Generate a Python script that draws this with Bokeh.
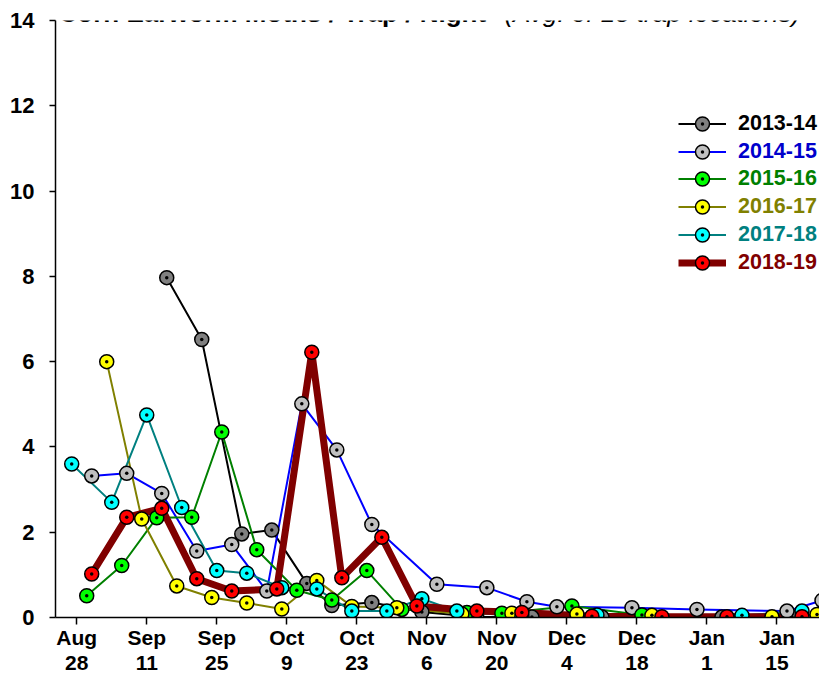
from bokeh.plotting import figure
from bokeh.models import Legend, LegendItem, Label, FixedTicker, Range1d
from bokeh.embed import file_html
from bokeh.resources import INLINE

# Day offsets are days after Aug 28 (x axis); values are moths / trap / night
days_2013 = [18, 25, 33, 39, 46, 51, 59, 69, 80, 91, 105, 129, 143]
vals_2013 = [7.97, 6.52, 1.96, 2.05, 0.80, 0.28, 0.35, 0.13, 0.01, 0.01, 0.01, 0.01, 0.01]

days_2014 = [3, 10, 17, 24, 31, 38, 45, 52, 59, 72, 82, 90, 96, 111, 124, 142, 149]
vals_2014 = [3.32, 3.38, 2.91, 1.56, 1.71, 0.62, 5.01, 3.93, 2.18, 0.78, 0.70, 0.37, 0.25, 0.23, 0.19, 0.15, 0.40]

days_2015 = [2, 9, 16, 23, 29, 36, 44, 51, 58, 65, 78, 85, 99, 113]
vals_2015 = [0.51, 1.22, 2.34, 2.35, 4.35, 1.59, 0.64, 0.41, 1.10, 0.19, 0.12, 0.10, 0.27, 0.06]

days_2016 = [6, 13, 20, 27, 34, 41, 48, 55, 64, 77, 87, 100, 115, 139, 148]
vals_2016 = [6.00, 2.31, 0.74, 0.47, 0.34, 0.20, 0.87, 0.26, 0.23, 0.08, 0.10, 0.08, 0.05, 0.02, 0.07]

days_2017 = [-1, 7, 14, 21, 28, 34, 41, 48, 55, 62, 69, 76, 89, 104, 133, 145]
vals_2017 = [3.60, 2.70, 4.75, 2.58, 1.10, 1.04, 0.70, 0.67, 0.15, 0.15, 0.44, 0.15, 0.02, 0.06, 0.05, 0.15]

days_2018 = [3, 10, 17, 24, 31, 40, 47, 53, 61, 68, 80, 89, 103, 117, 130, 145]
vals_2018 = [1.02, 2.35, 2.56, 0.91, 0.62, 0.67, 6.22, 0.93, 1.88, 0.27, 0.15, 0.12, 0.03, 0.02, 0.02, 0.02]

season_names = ["2013-14", "2014-15", "2015-16", "2016-17", "2017-18", "2018-19"]
line_colors = ["#000000", "#0000FF", "#008000", "#808000", "#008080", "#800000"]
text_colors = ["#000000", "#0000CC", "#008000", "#808000", "#008080", "#800000"]
fill_colors = ["#808080", "#C0C0C0", "#00FF00", "#FFFF00", "#00FFFF", "#FF0000"]
line_widths = [2, 2, 2, 2, 2, 7]

x_tick_days = [0, 14, 28, 42, 56, 70, 84, 98, 112, 126, 140]
x_tick_labels = ["Aug\n28", "Sep\n11", "Sep\n25", "Oct\n9", "Oct\n23", "Nov\n6",
                 "Nov\n20", "Dec\n4", "Dec\n18", "Jan\n1", "Jan\n15"]
y_ticks = [0, 2, 4, 6, 8, 10, 12, 14]

series_days = [days_2013, days_2014, days_2015, days_2016, days_2017, days_2018]
series_vals = [vals_2013, vals_2014, vals_2015, vals_2016, vals_2017, vals_2018]

FONT = "Liberation Sans"
MARKER_SIZE = 14

p = figure(width=819, height=676, output_backend="svg", toolbar_location=None,
           x_range=Range1d(-4.24, 148.5), y_range=Range1d(0, 14),
           min_border_left=55, min_border_right=0, min_border_top=20, min_border_bottom=59)
p.outline_line_color = None
p.xgrid.visible = False
p.ygrid.visible = False

lines = []
for d, v, lc, lw in zip(series_days, series_vals, line_colors, line_widths):
    lines.append(p.line(d, v, line_color=lc, line_width=lw, line_join="round"))
markers = []
for d, v, fc in zip(series_days, series_vals, fill_colors):
    markers.append(p.scatter(d, v, marker="circle_dot", size=MARKER_SIZE, fill_color=fc,
                             line_color="black", line_width=1.5))

# axes
for ax in (p.xaxis[0], p.yaxis[0]):
    ax.axis_line_width = 1.5
    ax.major_tick_line_width = 1.5
    ax.minor_tick_line_color = None
    ax.major_tick_in = 0
    ax.major_label_text_font = FONT
    ax.major_label_text_font_style = "bold"
    ax.major_label_text_font_size = "21px"
    ax.major_label_text_color = "black"

p.xaxis.ticker = FixedTicker(ticks=x_tick_days)
p.xaxis.major_label_overrides = {t: lab for t, lab in zip(x_tick_days, x_tick_labels)}
p.xaxis.major_tick_out = 7
p.xaxis.major_label_standoff = 1
p.xaxis.major_label_text_line_height = 1.1

p.yaxis.ticker = FixedTicker(ticks=y_ticks)
p.yaxis.major_tick_out = 6
p.yaxis.major_label_standoff = 15
p.yaxis.major_label_text_font_size = "22px"

# legends (one per season so each label can have its own colour)
glyph_h = int(round(MARKER_SIZE / 0.4))
for i, name in enumerate(season_names):
    leg = Legend(items=[LegendItem(label=name, renderers=[lines[i], markers[i]])],
                 location=(623, int(round(617 - 123.2 - glyph_h / 2 - i * 27.8))),
                 border_line_color=None, background_fill_alpha=0,
                 padding=0, margin=0, glyph_width=48, glyph_height=glyph_h,
                 label_height=20, label_standoff=12,
                 label_text_font=FONT, label_text_font_style="bold",
                 label_text_font_size="21.5px", label_text_color=text_colors[i],
                 label_text_baseline="middle")
    p.add_layout(leg)

# title (top clipped like the reference)
p.add_layout(Label(x=-3.64, y=14.17, text="Corn Earworm Moths / Trap / Night",
                   text_font=FONT, text_font_style="bold", text_font_size="26px",
                   text_baseline="alphabetic", text_color="black"))
p.add_layout(Label(x=85.5, y=14.17, text="(Avg. of 15 trap locations)",
                   text_font=FONT, text_font_style="italic", text_font_size="26px",
                   text_baseline="alphabetic", text_color="black"))

open("out.html", "w").write(file_html(p, INLINE))
